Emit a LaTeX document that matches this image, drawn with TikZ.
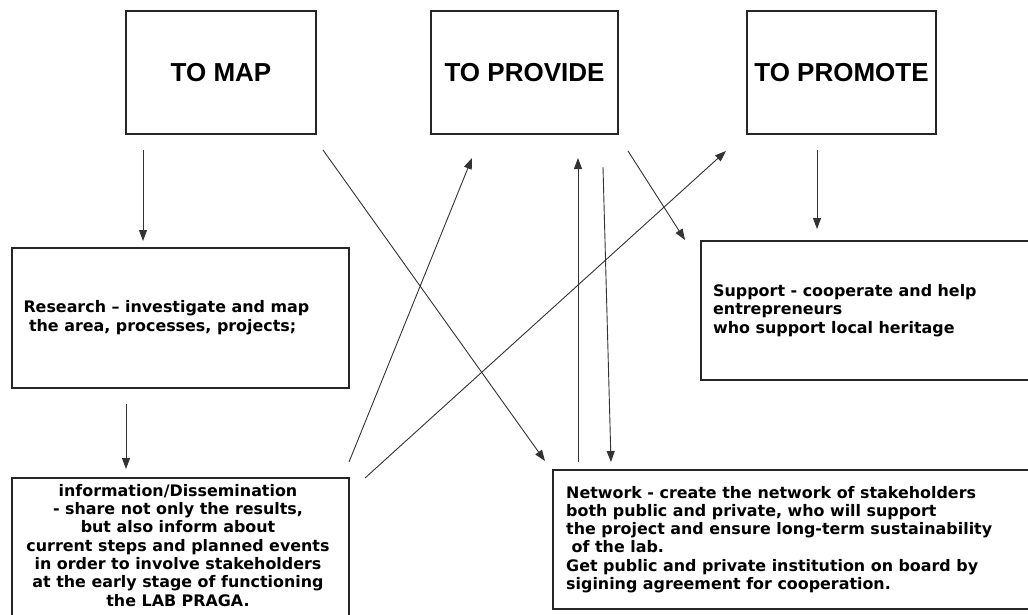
\documentclass[tikz,border=0pt]{standalone}
\usepackage{fontspec}
\usetikzlibrary{arrows.meta,calc}
\newfontfamily\titlefont{Liberation Sans}
\newfontfamily\bodyfont{DejaVu Sans}
\begin{document}
\begin{tikzpicture}[x=1pt,y=-1pt,
  box/.style={draw=black!85,line width=1.4pt,rectangle,inner sep=0pt},
  title/.style={font=\titlefont\bfseries\fontsize{26}{30}\selectfont},
  body/.style={font=\bodyfont\bfseries\fontsize{15.9}{18.3}\selectfont,inner sep=0pt},
  resbody/.style={font=\bodyfont\bfseries\fontsize{15.9}{19}\selectfont,inner sep=0pt},
  arr/.style={draw=black!80,line width=0.9pt,-{Triangle[length=11pt,width=8pt]}}]
\useasboundingbox (0,0) rectangle (1028,615);
\fill[white] (0,0) rectangle (1028,615);
\begin{scope}
\clip (0,0) rectangle (1028,615);
% top boxes
\node[box,minimum width=190pt,minimum height=123pt] (map) at (221,72.5) {};
\node[title] at (map.center) {TO MAP};
\node[box,minimum width=187pt,minimum height=123pt] (provide) at (524.5,72.5) {};
\node[title] at (provide.center) {TO PROVIDE};
\node[box,minimum width=189pt,minimum height=123pt] (promote) at (841.5,72.5) {};
\node[title] at (promote.center) {TO PROMOTE};
% research
\node[box,minimum width=337pt,minimum height=140pt] (research) at (180.5,318) {};
\node[resbody,anchor=west,align=left] (researcht) at ($(research.west)+(12,0)$)
  {Research – investigate and map\\\ the area, processes, projects;};
% support
\node[box,minimum width=340pt,minimum height=139pt] (support) at (871,310.5) {};
\node[body,anchor=west,align=left] (supportt) at (713,310.5)
  {Support - cooperate and help\\entrepreneurs\\who support local heritage};
% info
\node[box,minimum width=337pt,minimum height=160pt] (info) at (180.5,558) {};
\node[body,anchor=north,align=center] (infot) at (178,484)
  {information/Dissemination\\- share not only the results,\\but also inform about\\current steps and planned events\\in order to involve stakeholders\\at the early stage of functioning\\the LAB PRAGA.};
% network
\node[box,minimum width=490pt,minimum height=139pt] (network) at (798,539.5) {};
\node[body,anchor=west,align=left] (networkt) at (566,539.5)
  {Network - create the network of stakeholders\\both public and private, who will support\\the project and ensure long-term sustainability\\\ of the lab.\\Get public and private institution on board by\\sigining agreement for cooperation.};
\end{scope}
% connectors
\coordinate (c1) at (143,150); \coordinate (c1e) at (143,241);
\draw[arr] (c1) -- (c1e);
\coordinate (c2) at (126,404); \coordinate (c2e) at (126,469);
\draw[arr] (c2) -- (c2e);
\coordinate (c3) at (323,150); \coordinate (c3e) at (545,461);
\draw[arr] (c3) -- (c3e);
\coordinate (c4) at (349,462); \coordinate (c4e) at (472,158);
\draw[arr] (c4) -- (c4e);
\coordinate (c5) at (365,478); \coordinate (c5e) at (726,151);
\draw[arr] (c5) -- (c5e);
\coordinate (c6) at (578,462); \coordinate (c6e) at (578,158);
\draw[arr] (c6) -- (c6e);
\coordinate (c7) at (603,167); \coordinate (c7e) at (611,462);
\draw[arr] (c7) -- (c7e);
\coordinate (c8) at (628,151); \coordinate (c8e) at (685,240);
\draw[arr] (c8) -- (c8e);
\coordinate (c9) at (817,150); \coordinate (c9e) at (817,229);
\draw[arr] (c9) -- (c9e);
\end{tikzpicture}
\end{document}
